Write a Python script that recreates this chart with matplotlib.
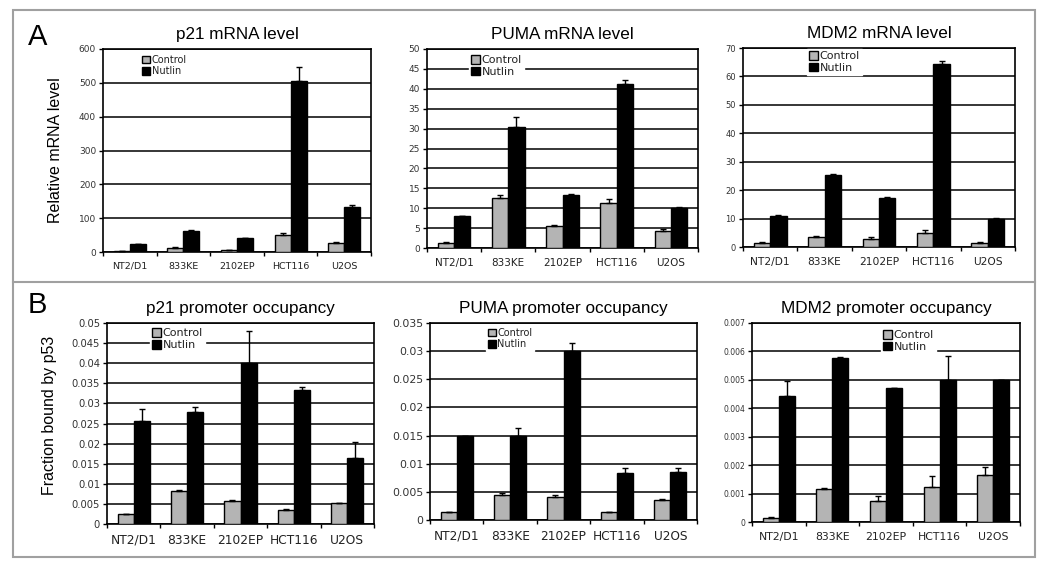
import numpy as np
import matplotlib
matplotlib.use('Agg')
import matplotlib.pyplot as plt
from matplotlib.patches import Rectangle
from matplotlib.lines import Line2D
from matplotlib.ticker import FuncFormatter

# cell lines and series
cells = ['NT2/D1', '833KE', '2102EP', 'HCT116', 'U2OS']
series = ['Control', 'Nutlin']

# panel A: relative mRNA levels
p21_mrna_ctrl = [2, 12, 5, 50, 27]
p21_mrna_ctrl_err = [0.5, 1.5, 1, 5, 2]
p21_mrna_nut = [23, 62, 40, 505, 133]
p21_mrna_nut_err = [1, 2, 2, 42, 5]

puma_mrna_ctrl = [1.2, 12.5, 5.6, 11.2, 4.3]
puma_mrna_ctrl_err = [0.2, 0.7, 0.2, 1.0, 0.5]
puma_mrna_nut = [8.0, 30.5, 13.2, 41.2, 10.0]
puma_mrna_nut_err = [0.1, 2.5, 0.4, 1.0, 0.2]

mdm2_mrna_ctrl = [1.5, 3.5, 2.9, 4.9, 1.3]
mdm2_mrna_ctrl_err = [0.2, 0.5, 0.5, 1.0, 0.3]
mdm2_mrna_nut = [10.8, 25.3, 17.3, 64.3, 9.9]
mdm2_mrna_nut_err = [0.3, 0.3, 0.4, 1.0, 0.3]

# panel B: promoter occupancy (fraction bound by p53)
p21_occ_ctrl = [0.0024, 0.0081, 0.0057, 0.0035, 0.0051]
p21_occ_ctrl_err = [0.0001, 0.0003, 0.0002, 0.0003, 0.0002]
p21_occ_nut = [0.0257, 0.0279, 0.0400, 0.0333, 0.0163]
p21_occ_nut_err = [0.0028, 0.0013, 0.0081, 0.0008, 0.0041]

puma_occ_ctrl = [0.0014, 0.0044, 0.0041, 0.0014, 0.0035]
puma_occ_ctrl_err = [0.0001, 0.0004, 0.0004, 0.0, 0.0002]
puma_occ_nut = [0.0150, 0.0150, 0.0300, 0.0083, 0.0086]
puma_occ_nut_err = [0.0, 0.0013, 0.0015, 0.0009, 0.0006]

mdm2_occ_ctrl = [0.00015, 0.00115, 0.00073, 0.00122, 0.00165]
mdm2_occ_ctrl_err = [0.00003, 0.00003, 0.0002, 0.0004, 0.00027]
mdm2_occ_nut = [0.00442, 0.00576, 0.00473, 0.00500, 0.00498]
mdm2_occ_nut_err = [0.00053, 0.00005, 0.0, 0.00083, 0.0]

W, H = 1050, 572
fig = plt.figure(figsize=(W / 100, H / 100), dpi=100)
fig.patch.set_facecolor('white')


def px_rect(x0, y0, x1, y1):
    return [x0 / W, 1 - y1 / H, (x1 - x0) / W, (y1 - y0) / H]


def fmt_g(v, pos):
    return '{:g}'.format(round(v, 6))


def bar_panel(rect, title, ctrl, ctrl_err, nut, nut_err, ymax, ystep, leg_pos,
              xt_fs=7.5, yt_fs=6.5, leg_fs=8.0):
    ax = fig.add_axes(px_rect(*rect))
    x = np.arange(len(cells))
    w = 0.3
    ax.bar(x - w / 2, ctrl, w, color='#b4b4b4', edgecolor='black', lw=1.0,
           label=series[0], zorder=3)
    ax.bar(x + w / 2, nut, w, color='black', edgecolor='black', lw=1.0,
           label=series[1], zorder=3)
    ax.errorbar(x - w / 2, ctrl, yerr=[np.zeros(len(ctrl)), ctrl_err], fmt='none',
                ecolor='black', elinewidth=1.0, capsize=2, capthick=1.0, zorder=4)
    ax.errorbar(x + w / 2, nut, yerr=[np.zeros(len(nut)), nut_err], fmt='none',
                ecolor='black', elinewidth=1.0, capsize=2, capthick=1.0, zorder=4)
    ax.set_xlim(-0.5, len(cells) - 0.5)
    ax.set_ylim(0, ymax)
    ax.set_yticks(np.arange(0, ymax + ystep / 2, ystep))
    ax.yaxis.set_major_formatter(FuncFormatter(fmt_g))
    ax.yaxis.grid(True, color='black', lw=1.1)
    ax.set_axisbelow(True)
    ax.set_xticks(x)
    ax.set_xticklabels(cells, fontsize=xt_fs, family='DejaVu Sans', color='#222222')
    ax.set_xticks(np.arange(-0.5, len(cells)), minor=True)
    ax.tick_params(axis='x', which='major', length=0, pad=7)
    ax.tick_params(axis='x', which='minor', length=3, width=1.0, direction='out')
    ax.tick_params(axis='y', length=3, width=1.0, direction='out', labelsize=yt_fs,
                   labelcolor='#333333', pad=2)
    for s in ax.spines.values():
        s.set_linewidth(1.2)
        s.set_color('black')
    ax.set_title(title, fontsize=12.3, family='Liberation Sans', pad=7)
    leg = ax.legend(loc='upper left', bbox_to_anchor=leg_pos, fontsize=leg_fs,
                    frameon=True, fancybox=False, handlelength=0.8, handleheight=0.8,
                    handletextpad=0.15, labelspacing=0.15, borderpad=0.2,
                    borderaxespad=0)
    leg.get_frame().set_edgecolor('white')
    leg.get_frame().set_facecolor('white')
    leg.get_frame().set_alpha(1)
    for t in leg.get_texts():
        t.set_family('DejaVu Sans')
        t.set_color('#222222')
    return ax


# Panel A
ax1 = bar_panel((103, 49, 371, 252), 'p21 mRNA level', p21_mrna_ctrl, p21_mrna_ctrl_err,
                p21_mrna_nut, p21_mrna_nut_err, 600, 100, (0.14, 0.98),
                xt_fs=6.8, yt_fs=6.5, leg_fs=7.0)
ax1.set_ylabel('Relative mRNA level', fontsize=11.5, family='Liberation Sans')
ax1.yaxis.set_label_coords(-0.149, 0.5)
bar_panel((427, 49, 698, 248), 'PUMA mRNA level', puma_mrna_ctrl, puma_mrna_ctrl_err,
          puma_mrna_nut, puma_mrna_nut_err, 50, 5, (0.155, 0.98),
          xt_fs=7.5, yt_fs=6.5, leg_fs=8.0)
bar_panel((743, 48, 1015, 247), 'MDM2 mRNA level', mdm2_mrna_ctrl, mdm2_mrna_ctrl_err,
          mdm2_mrna_nut, mdm2_mrna_nut_err, 70, 10, (0.235, 0.995),
          xt_fs=7.7, yt_fs=6.0, leg_fs=8.0)

# Panel B
ax4 = bar_panel((107, 323, 374, 524), 'p21 promoter occupancy', p21_occ_ctrl, p21_occ_ctrl_err,
                p21_occ_nut, p21_occ_nut_err, 0.05, 0.005, (0.16, 0.985),
                xt_fs=8.8, yt_fs=7.2, leg_fs=8.0)
ax4.set_ylabel('Fraction bound by p53', fontsize=11.5, family='Liberation Sans')
ax4.yaxis.set_label_coords(-0.187, 0.54)
bar_panel((430, 323, 697, 520), 'PUMA promoter occupancy', puma_occ_ctrl, puma_occ_ctrl_err,
          puma_occ_nut, puma_occ_nut_err, 0.035, 0.005, (0.21, 0.985),
          xt_fs=8.7, yt_fs=7.8, leg_fs=7.0)
bar_panel((752, 323, 1020, 522), 'MDM2 promoter occupancy', mdm2_occ_ctrl, mdm2_occ_ctrl_err,
          mdm2_occ_nut, mdm2_occ_nut_err, 0.007, 0.001, (0.48, 0.975),
          xt_fs=7.8, yt_fs=5.5, leg_fs=8.0)

# outer frame and divider
fig.patches.append(Rectangle((13 / W, 1 - 557 / H), (1035 - 13) / W, (557 - 10) / H,
                             transform=fig.transFigure, fill=False, edgecolor='#a0a0a0',
                             lw=1.5))
fig.lines.append(Line2D([13 / W, 1035 / W], [1 - 282 / H, 1 - 282 / H],
                        transform=fig.transFigure, color='#a0a0a0', lw=1.5))

fig.text(38 / W, 1 - 37 / H, 'A', fontsize=21, family='Liberation Sans', ha='center', va='center')
fig.text(37 / W, 1 - 305 / H, 'B', fontsize=21, family='Liberation Sans', ha='center', va='center')

fig.savefig('out.png', dpi=100, facecolor='white')
